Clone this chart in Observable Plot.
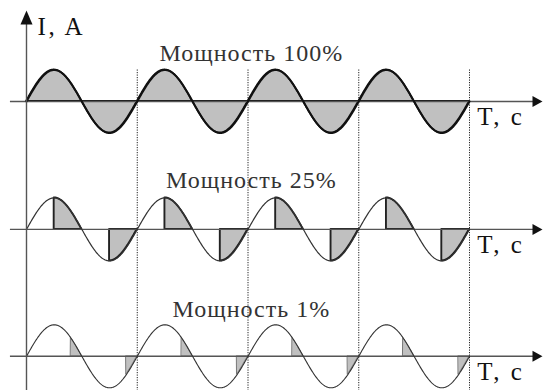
<!DOCTYPE html>
<html><head><meta charset="utf-8">
<script src="https://cdn.jsdelivr.net/npm/d3@7"></script>
<script src="https://cdn.jsdelivr.net/npm/@observablehq/plot@0.6"></script>
<style>body{margin:0;background:#fff}</style>
</head><body><div id="chart"></div>
<script>
// ---- chart content ----
const panelTitles = ["Мощность 100%", "Мощность 25%", "Мощность 1%"];
const powerLevels = [100, 25, 1];
const firingAngles = [0, 90, 145]; // conduction start (degrees) inside each half-cycle
const periodCount = 4;
const periodMarks = [1, 2, 3, 4];
const yAxisLabel = "I, A";
const xAxisLabel = "T, c";

// ---- layout (panel baselines and label lifts, in amplitude units) ----
const offsets = [0, -4.06, -8.09];
const titleLift = [1.3, 1.3, 1.24];
const panels = panelTitles.map((title, i) => ({i, title, power: powerLevels[i], alpha: firingAngles[i], off: offsets[i], lift: titleLift[i]}));

const rad = d => d * Math.PI / 180;
const wave = [];
panels.forEach(p => {
  for (let d = 0; d <= 360 * periodCount; d += 2)
    wave.push({panel: p.i, t: d / 360, v: Math.sin(rad(d)) + p.off});
});
const shaded = [];
panels.forEach(p => {
  for (let h = 0; h < 2 * periodCount; h++) {
    for (let d = p.alpha; d <= 180; d += 1) {
      const deg = h * 180 + d;
      shaded.push({panel: p.i, seg: p.i * 100 + h, t: deg / 360, v: Math.sin(rad(deg)) + p.off, base: p.off});
    }
  }
});

const upHead = {draw(ctx) { ctx.moveTo(0, 0); ctx.lineTo(6, 14); ctx.lineTo(-6, 14); ctx.closePath(); }};
const rightHead = {draw(ctx) { ctx.moveTo(0, 0); ctx.lineTo(-10, -5.5); ctx.lineTo(-10, 5.5); ctx.closePath(); }};

const serif = "Liberation Serif, Tinos, Times New Roman, DejaVu Serif, serif";
const waveStyle = [{stroke: "#111", w: 2}, {stroke: "#333", w: 1.2}, {stroke: "#333", w: 1.1}];
const shadeStroke = [{stroke: "#111", w: 1.8}, {stroke: "#222", w: 1.9}, {stroke: "#777", w: 1}];

const marks = [];
panels.forEach(p => {
  marks.push(Plot.areaY(shaded.filter(d => d.panel === p.i), {
    x: "t", y1: "base", y2: "v", z: "seg", fill: "#c0c0c0",
    stroke: shadeStroke[p.i].stroke, strokeWidth: shadeStroke[p.i].w, curve: "linear"
  }));
});
marks.push(Plot.ruleY(panels, {y: "off", x1: -0.145, x2: 4.6, stroke: "#555", strokeWidth: 1.4}));
marks.push(Plot.ruleX(periodMarks, {x: d => d, y1: 1, y2: -9.3, stroke: "#222", strokeWidth: 1, strokeDasharray: "1.2,1.3"}));
panels.forEach(p => {
  marks.push(Plot.line(wave.filter(d => d.panel === p.i), {
    x: "t", y: "v", stroke: waveStyle[p.i].stroke, strokeWidth: waveStyle[p.i].w
  }));
});
marks.push(Plot.ruleX([0], {x: d => d, y1: 2.7, y2: -9.3, stroke: "#555", strokeWidth: 1.4}));
marks.push(Plot.dot([0], {x: d => d, y: () => 2.889, symbol: upHead, fill: "#111", stroke: "none"}));
marks.push(Plot.dot(panels, {x: () => 4.659, y: "off", symbol: rightHead, fill: "#111", stroke: "none"}));
marks.push(Plot.text([yAxisLabel], {x: () => 0.1, y: () => 2.1, text: d => d, textAnchor: "start", lineAnchor: "bottom", fontSize: 25, fill: "#111"}));
marks.push(Plot.text(panels, {x: () => 2.03, y: d => d.off + d.lift, text: "title", textAnchor: "middle", lineAnchor: "bottom", fontSize: 24, fill: "#333"}));
marks.push(Plot.text(panels, {x: () => 4.07, y: d => d.off - 0.76, text: () => xAxisLabel, textAnchor: "start", lineAnchor: "bottom", fontSize: 25, fill: "#111"}));

const chart = Plot.plot({
  width: 543, height: 390, margin: 0,
  style: {background: "#fff", fontFamily: serif},
  x: {domain: [0, 4], range: [26, 469], axis: null},
  y: {domain: [-9.175, 3.206], range: [390, 0], axis: null},
  marks
});
chart.querySelectorAll("text").forEach(t => {
  t.style.fontFamily = serif;
  t.style.letterSpacing = t.textContent.startsWith("Мощность") ? "1px" : "2.5px";
});
document.getElementById("chart").append(chart);
</script>
</body></html>
